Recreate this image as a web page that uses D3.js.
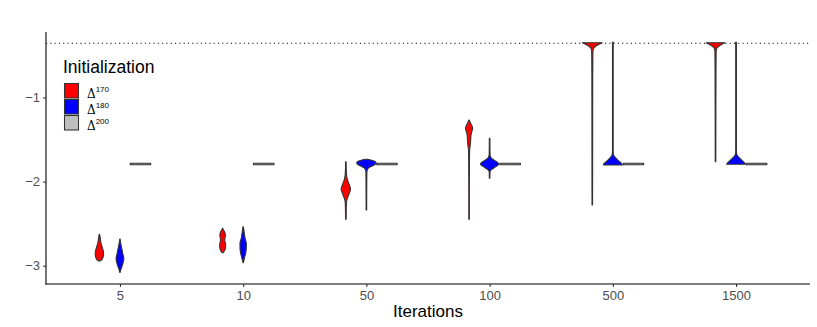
<!DOCTYPE html>
<html><head><meta charset="utf-8">
<script src="https://cdn.jsdelivr.net/npm/d3@7"></script>
<style>body{margin:0;background:#fff}svg{display:block;font-family:"Liberation Sans",Arial,sans-serif}</style>
</head><body><svg id="c" width="817" height="327"></svg>
<script>
const categories = ["5","10","50","100","500","1500"];
const initializations = ["170","180","200"];
const yTickValues = [-3,-2,-1];
const referenceLevel = -0.355;
const yDomain = [-3.218, -0.221];

// violin profiles: [value, relative density] per category (order as categories)
const profiles170 = [
  [[-2.627,0.02],[-2.66,0.07],[-2.70,0.12],[-2.734,0.16],[-2.765,0.24],[-2.793,0.31],[-2.825,0.38],[-2.853,0.41],[-2.885,0.39],[-2.912,0.32],[-2.935,0.2],[-2.944,0.07]],
  [[-2.555,0.02],[-2.576,0.08],[-2.596,0.19],[-2.635,0.27],[-2.665,0.24],[-2.694,0.21],[-2.725,0.25],[-2.754,0.29],[-2.793,0.27],[-2.825,0.17],[-2.845,0.05]],
  [[-1.763,0.03],[-1.85,0.04],[-1.922,0.07],[-1.993,0.19],[-2.052,0.38],[-2.092,0.46],[-2.124,0.38],[-2.171,0.24],[-2.219,0.1],[-2.278,0.05],[-2.35,0.04],[-2.448,0.03]],
  [[-1.268,0.02],[-1.303,0.14],[-1.339,0.29],[-1.369,0.35],[-1.398,0.29],[-1.446,0.19],[-1.505,0.16],[-1.565,0.12],[-1.624,0.06],[-1.743,0.04],[-2.1,0.03],[-2.448,0.03]],
  [[-0.350,0.98],[-0.364,0.72],[-0.388,0.36],[-0.415,0.13],[-0.459,0.06],[-0.7,0.045],[-1.03,0.04],[-1.7,0.035],[-2.278,0.03]],
  [[-0.350,0.93],[-0.364,0.68],[-0.388,0.34],[-0.415,0.12],[-0.459,0.06],[-1.0,0.04],[-1.763,0.03]]
];
const profiles180 = [
  [[-2.683,0.02],[-2.72,0.06],[-2.754,0.11],[-2.813,0.21],[-2.873,0.31],[-2.914,0.38],[-2.956,0.33],[-3.004,0.21],[-3.051,0.08],[-3.081,0.02]],
  [[-2.536,0.02],[-2.575,0.07],[-2.615,0.11],[-2.674,0.19],[-2.734,0.31],[-2.793,0.31],[-2.853,0.24],[-2.912,0.12],[-2.964,0.02]],
  [[-1.735,0.1],[-1.745,0.5],[-1.76,0.85],[-1.78,0.95],[-1.80,0.8],[-1.82,0.45],[-1.85,0.12],[-1.89,0.05],[-2.0,0.04],[-2.338,0.03]],
  [[-1.485,0.03],[-1.6,0.035],[-1.684,0.05],[-1.723,0.19],[-1.755,0.57],[-1.791,0.9],[-1.826,0.57],[-1.862,0.14],[-1.886,0.04],[-1.961,0.03]],
  [[-0.344,0.05],[-0.36,0.035],[-1.0,0.035],[-1.62,0.035],[-1.67,0.05],[-1.695,0.12],[-1.719,0.29],[-1.755,0.57],[-1.785,0.86],[-1.803,0.92]],
  [[-0.344,0.05],[-0.36,0.035],[-1.0,0.035],[-1.62,0.035],[-1.665,0.05],[-1.69,0.12],[-1.715,0.3],[-1.75,0.6],[-1.778,0.84],[-1.794,0.92]]
];
const profiles200 = [
  [[-1.782,1],[-1.800,1]],
  [[-1.782,1],[-1.800,1]],
  [[-1.782,1],[-1.800,1]],
  [[-1.782,1],[-1.800,1]],
  [[-1.782,1],[-1.800,1]],
  [[-1.782,1],[-1.800,1]]
];
const profilesByInit = {"170":profiles170,"180":profiles180,"200":profiles200};
const fillColors = {"170":"#FF0000","180":"#0000FF","200":"#BEBEBE"};

const svg = d3.select("#c");
const L=46, R=810, T=32, B=284;
const x = d3.scalePoint().domain(categories).range([L,R]).padding(0.6);
const step = x.step();
const xInner = d3.scaleBand().domain(initializations).range([-step*0.25, step*0.25]).paddingInner(0);
const y = d3.scaleLinear().domain(yDomain).range([B,T]);
const w = d3.scaleLinear().domain([0,1]).range([0, xInner.bandwidth()/2]);

// reference dotted line
svg.append("line").attr("x1",L).attr("x2",R).attr("y1",y(referenceLevel)).attr("y2",y(referenceLevel))
  .attr("stroke","#000").attr("stroke-width",1.1).attr("stroke-dasharray","1.1,3.2");

// violins
const g = svg.append("g");
initializations.forEach(init=>{
  profilesByInit[init].forEach((prof,i)=>{
    const cx = x(categories[i]) + xInner(init) + xInner.bandwidth()/2;
    const area = d3.area()
      .y(d=>y(d[0]))
      .x0(d=>cx - w(d[1]))
      .x1(d=>cx + w(d[1]))
      .curve(d3.curveMonotoneY);
    g.append("path").attr("d",area(prof))
      .attr("fill",fillColors[init]).attr("stroke","#333333").attr("stroke-width",1.05)
      .attr("stroke-linejoin","round");
  });
});

// axes
const xAxis = svg.append("g").attr("transform",`translate(0,${B})`)
  .call(d3.axisBottom(x).tickSize(3).tickPadding(4).tickSizeOuter(0));
const yAxis = svg.append("g").attr("transform",`translate(${L},0)`)
  .call(d3.axisLeft(y).tickValues(yTickValues).tickSize(3).tickPadding(3).tickSizeOuter(0)
    .tickFormat(d=>"\u2212"+Math.abs(d)));
[xAxis,yAxis].forEach(a=>{
  a.select(".domain").remove();
  a.selectAll(".tick line").attr("stroke","#333333").attr("stroke-width",1.05);
  a.selectAll(".tick text").attr("fill","#4D4D4D").style("font-size","13px")
    .style("font-family","'Liberation Sans',Arial,sans-serif");
});
svg.append("line").attr("x1",L).attr("x2",L).attr("y1",T).attr("y2",B+0.5).attr("stroke","#000").attr("stroke-width",1.1);
svg.append("line").attr("x1",L-0.5).attr("x2",R).attr("y1",B).attr("y2",B).attr("stroke","#000").attr("stroke-width",1.1);

svg.append("text").attr("x",(L+R)/2).attr("y",317).attr("text-anchor","middle")
  .style("font-size","17px").attr("fill","#000").text("Iterations");

// legend
const lg = svg.append("g");
lg.append("text").attr("x",63).attr("y",72.5).style("font-size","17.5px").attr("fill","#000").text("Initialization");
initializations.forEach((init,i)=>{
  lg.append("rect").attr("x",64.5).attr("y",83.5+i*16).attr("width",14).attr("height",14.5)
    .attr("fill",fillColors[init]).attr("stroke","#333333").attr("stroke-width",1.05);
  const t = lg.append("text").attr("x",87).attr("y",98+i*16.2).attr("fill","#000").style("font-size","12px");
  t.append("tspan").style("font-family","'DejaVu Serif','Liberation Serif',serif").text("\u0394");
  t.append("tspan").attr("dy",-6.5).style("font-size","8px").text(init);
});
</script></body></html>
